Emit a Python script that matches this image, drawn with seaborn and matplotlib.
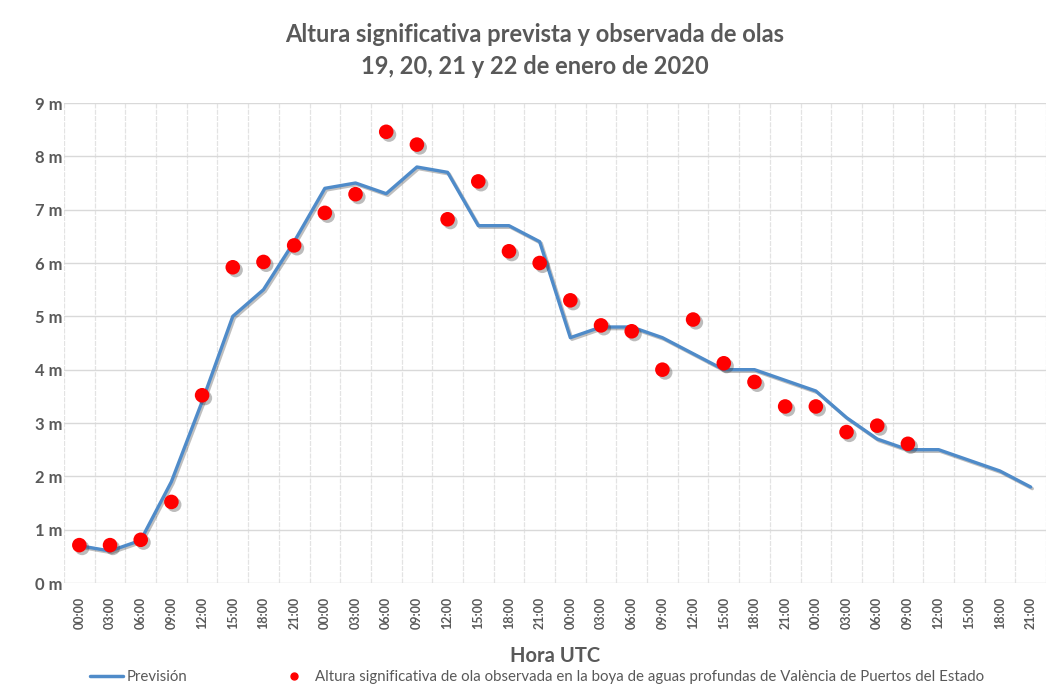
import pandas as pd
import matplotlib
matplotlib.use('Agg')
import matplotlib.pyplot as plt
import matplotlib.patheffects as pe
from matplotlib.lines import Line2D
import seaborn as sns

# etiquetas del eje x (4 días, cada 3 horas)
horas = ['00:00', '03:00', '06:00', '09:00', '12:00', '15:00', '18:00', '21:00'] * 4

# previsión (m)
prevision = [0.7, 0.6, 0.8, 1.9, 3.4, 5.0, 5.5, 6.4, 7.4, 7.5, 7.3, 7.8,
             7.7, 6.7, 6.7, 6.4, 4.6, 4.8, 4.8, 4.6, 4.3, 4.0, 4.0, 3.8,
             3.6, 3.1, 2.7, 2.5, 2.5, 2.3, 2.1, 1.8]

# observada en la boya (m)
observada = [0.71, 0.71, 0.81, 1.52, 3.52, 5.92, 6.02, 6.33, 6.94, 7.29,
             8.46, 8.22, 6.82, 7.53, 6.22, 6.0, 5.3, 4.83, 4.72, 4.0,
             4.94, 4.12, 3.77, 3.31, 3.31, 2.83, 2.95, 2.61]

df_prev = pd.DataFrame({'x': range(len(prevision)), 'altura': prevision})
df_obs = pd.DataFrame({'x': range(len(observada)), 'altura': observada})

sns.set_style('white')
plt.rcParams['font.family'] = ['Lato', 'DejaVu Sans']

gris = '#595959'
azul = '#4F8BC9'
rojo = '#FF0000'

fig = plt.figure(figsize=(10.49, 6.93), dpi=100)
ax = fig.add_axes([64 / 1049, 1 - 583 / 693, (1046 - 64) / 1049, (583 - 103) / 693])

sns.lineplot(data=df_prev, x='x', y='altura', ax=ax, color=azul, linewidth=2.4,
             path_effects=[pe.SimpleLineShadow(offset=(1.2, -1.2), alpha=0.25), pe.Normal()])
sns.scatterplot(data=df_obs, x='x', y='altura', ax=ax, color=rojo, s=110, edgecolor='none',
                zorder=5,
                path_effects=[pe.SimplePatchShadow(offset=(2, -2), shadow_rgbFace='#404040',
                                                   alpha=0.35), pe.Normal()])

ax.set_xlim(-0.5, len(horas) - 0.5)
ax.set_ylim(0, 9)
ax.set_xticks(range(len(horas)))
ax.set_xticklabels(horas, rotation=90, fontsize=9, fontweight='bold', color=gris)
ax.set_xticks([i + 0.5 for i in range(-1, len(horas))], minor=True)
ax.set_yticks(range(0, 10))
ax.set_yticklabels([f'{v} m' for v in range(0, 10)], fontsize=12, fontweight='bold', color=gris)
ax.tick_params(axis='both', which='both', length=0)
ax.tick_params(axis='y', pad=1)
ax.tick_params(axis='x', pad=10)

ax.grid(axis='y', which='major', color='#d9d9d9', linewidth=1)
ax.grid(axis='x', which='minor', color='#e3e3e3', linewidth=0.9, linestyle=(0, (4, 1)))
ax.set_axisbelow(True)
for s in ax.spines.values():
    s.set_visible(False)

ax.set_xlabel('Hora UTC', fontsize=14.5, fontweight='bold', color=gris, labelpad=12)
ax.set_ylabel('')

fig.text(535 / 1049, 1 - 35 / 693, 'Altura significativa prevista y observada de olas',
         ha='center', va='center', fontsize=17, fontweight='bold', color=gris)
fig.text(535 / 1049, 1 - 66 / 693, '19, 20, 21 y 22 de enero de 2020',
         ha='center', va='center', fontsize=17, fontweight='bold', color=gris)

handles = [Line2D([0], [0], color=azul, linewidth=2.5),
           Line2D([0], [0], marker='o', linestyle='none', color=rojo, markersize=5)]
labels = ['Previsión',
          'Altura significativa de ola observada en la boya de aguas profundas de València de Puertos del Estado']
leg = fig.legend(handles, labels, loc='center', bbox_to_anchor=(537 / 1049, 1 - 677 / 693),
                 ncol=2, frameon=False, fontsize=10.8, columnspacing=6, handlelength=2.2,
                 handletextpad=0.3)
for t in leg.get_texts():
    t.set_color(gris)

plt.savefig('out.png', dpi=100)
